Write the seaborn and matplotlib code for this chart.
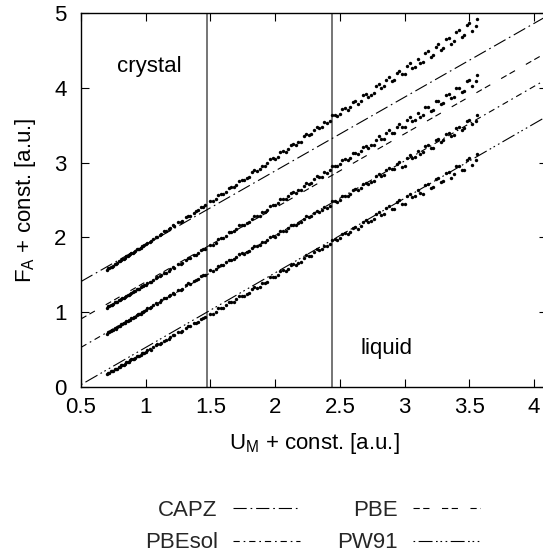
import matplotlib
matplotlib.use("Agg")
import matplotlib.pyplot as plt
from matplotlib.lines import Line2D
import seaborn as sns
import pandas as pd
import numpy as np

# ---------------- data (two sets of sampled configurations) ----------------
u_m_a = [0.70, 0.72, 0.73, 0.75, 0.77, 0.79, 0.80, 0.82, 0.84, 0.86, 0.88, 0.90, 0.92, 0.94, 0.96, 0.98,
         1.00, 1.03, 1.06, 1.09, 1.12, 1.16, 1.19, 1.22, 1.25, 1.28, 1.31, 1.34, 1.37, 1.40, 1.43, 1.46,
         1.50, 1.54, 1.58, 1.62, 1.66, 1.70, 1.74, 1.78, 1.82, 1.86, 1.90, 1.94, 1.98, 2.02, 2.06, 2.10,
         2.14, 2.18, 2.22, 2.26, 2.30, 2.34, 2.38, 2.42, 2.46, 2.50, 2.54, 2.58, 2.62, 2.66, 2.70, 2.74,
         2.78, 2.82, 2.86, 2.90, 2.94, 2.98, 3.02, 3.06, 3.10, 3.14, 3.18, 3.22, 3.26, 3.30, 3.34, 3.38,
         3.42, 3.46, 3.50, 3.55]

f_capz_a = [1.57, 1.59, 1.61, 1.62, 1.65, 1.68, 1.68, 1.71, 1.73, 1.75, 1.78, 1.79, 1.82, 1.85, 1.86, 1.89,
            1.91, 1.94, 1.98, 2.00, 2.05, 2.09, 2.13, 2.15, 2.20, 2.22, 2.27, 2.29, 2.33, 2.36, 2.40, 2.43,
            2.49, 2.51, 2.58, 2.61, 2.68, 2.70, 2.77, 2.80, 2.87, 2.89, 2.96, 2.99, 3.06, 3.08, 3.16, 3.18,
            3.25, 3.27, 3.35, 3.37, 3.44, 3.46, 3.54, 3.56, 3.64, 3.65, 3.73, 3.74, 3.83, 3.82, 3.92, 3.91,
            4.02, 4.00, 4.11, 4.09, 4.20, 4.18, 4.29, 4.27, 4.39, 4.35, 4.49, 4.44, 4.58, 4.53, 4.67, 4.62,
            4.77, 4.70, 4.86, 4.82]

f_pbe_a = [1.06, 1.08, 1.10, 1.11, 1.13, 1.16, 1.16, 1.19, 1.20, 1.23, 1.25, 1.27, 1.29, 1.31, 1.34, 1.35,
           1.37, 1.41, 1.43, 1.47, 1.50, 1.53, 1.58, 1.59, 1.64, 1.66, 1.70, 1.72, 1.76, 1.79, 1.83, 1.85,
           1.90, 1.93, 1.99, 2.02, 2.07, 2.11, 2.17, 2.19, 2.25, 2.28, 2.34, 2.37, 2.43, 2.46, 2.52, 2.55,
           2.61, 2.63, 2.69, 2.72, 2.78, 2.81, 2.87, 2.90, 2.96, 2.98, 3.05, 3.06, 3.13, 3.15, 3.22, 3.23,
           3.30, 3.32, 3.40, 3.39, 3.48, 3.47, 3.57, 3.55, 3.66, 3.63, 3.74, 3.70, 3.83, 3.80, 3.92, 3.88,
           4.00, 3.96, 4.10, 4.09]

f_pbesol_a = [0.71, 0.73, 0.75, 0.76, 0.78, 0.81, 0.81, 0.84, 0.85, 0.88, 0.90, 0.92, 0.94, 0.97, 0.98, 1.00,
              1.03, 1.05, 1.10, 1.11, 1.16, 1.19, 1.23, 1.25, 1.30, 1.31, 1.36, 1.38, 1.42, 1.44, 1.48, 1.50,
              1.56, 1.58, 1.63, 1.67, 1.70, 1.74, 1.79, 1.81, 1.86, 1.89, 1.94, 1.96, 2.02, 2.04, 2.09, 2.12,
              2.17, 2.19, 2.25, 2.27, 2.32, 2.34, 2.40, 2.42, 2.48, 2.50, 2.56, 2.58, 2.65, 2.66, 2.73, 2.74,
              2.82, 2.82, 2.90, 2.91, 2.98, 2.94, 3.06, 3.06, 3.15, 3.14, 3.23, 3.19, 3.31, 3.30, 3.40, 3.37,
              3.48, 3.46, 3.57, 3.56]

f_pw91_a = [0.17, 0.19, 0.21, 0.22, 0.24, 0.27, 0.27, 0.30, 0.31, 0.33, 0.36, 0.37, 0.39, 0.42, 0.43, 0.45,
            0.47, 0.51, 0.53, 0.57, 0.59, 0.63, 0.67, 0.69, 0.73, 0.75, 0.79, 0.81, 0.85, 0.87, 0.91, 0.93,
            0.98, 1.00, 1.06, 1.10, 1.13, 1.18, 1.22, 1.25, 1.31, 1.33, 1.39, 1.41, 1.47, 1.50, 1.56, 1.58,
            1.64, 1.66, 1.72, 1.75, 1.81, 1.83, 1.89, 1.91, 1.98, 1.99, 2.06, 2.07, 2.14, 2.15, 2.23, 2.22,
            2.31, 2.30, 2.39, 2.38, 2.47, 2.45, 2.55, 2.54, 2.64, 2.58, 2.72, 2.67, 2.80, 2.75, 2.87, 2.85,
            2.96, 2.90, 3.06, 3.03]

u_m_b = [0.71, 0.74, 0.76, 0.78, 0.81, 0.83, 0.85, 0.87, 0.89, 0.91, 0.93, 0.95, 0.97, 0.99, 1.01, 1.04,
         1.08, 1.11, 1.14, 1.18, 1.21, 1.27, 1.33, 1.39, 1.44,
         1.52, 1.56, 1.60, 1.64, 1.68, 1.72, 1.76, 1.80, 1.84, 1.88, 1.92, 1.96, 2.00, 2.04, 2.08, 2.12,
         2.16, 2.20, 2.24, 2.28, 2.32, 2.36, 2.40, 2.44, 2.48, 2.52, 2.56, 2.60, 2.64, 2.68, 2.72, 2.76,
         2.80, 2.84, 2.88, 2.92, 2.96, 3.00, 3.04, 3.08, 3.12, 3.16, 3.20, 3.24, 3.28, 3.32, 3.36, 3.40,
         3.44, 3.48, 3.52, 3.56]

f_capz_b = [1.59, 1.61, 1.65, 1.66, 1.70, 1.71, 1.75, 1.76, 1.79, 1.80, 1.84, 1.85, 1.88, 1.90, 1.93, 1.95,
            2.01, 2.03, 2.08, 2.11, 2.16, 2.21, 2.29, 2.35, 2.41,
            2.48, 2.57, 2.58, 2.66, 2.67, 2.76, 2.77, 2.81, 2.90, 2.91, 2.95, 3.05, 3.05, 3.14, 3.14, 3.24,
            3.24, 3.28, 3.38, 3.38, 3.48, 3.47, 3.53, 3.63, 3.62, 3.72, 3.70, 3.81, 3.79, 3.91, 3.88, 3.93,
            4.05, 4.02, 4.14, 4.10, 4.23, 4.19, 4.33, 4.28, 4.33, 4.46, 4.41, 4.55, 4.50, 4.65, 4.59, 4.74,
            4.68, 4.84, 4.76, 4.92]

f_pbe_b = [1.08, 1.10, 1.13, 1.14, 1.18, 1.19, 1.22, 1.23, 1.26, 1.28, 1.31, 1.31, 1.35, 1.36, 1.39, 1.41,
           1.46, 1.49, 1.52, 1.55, 1.60, 1.65, 1.72, 1.77, 1.84,
           1.90, 1.98, 1.99, 2.07, 2.08, 2.16, 2.16, 2.21, 2.29, 2.29, 2.34, 2.42, 2.43, 2.51, 2.51, 2.60,
           2.60, 2.64, 2.73, 2.73, 2.82, 2.81, 2.86, 2.96, 2.95, 3.04, 3.03, 3.13, 3.11, 3.21, 3.19, 3.24,
           3.35, 3.32, 3.43, 3.40, 3.52, 3.48, 3.61, 3.57, 3.61, 3.74, 3.69, 3.82, 3.78, 3.91, 3.86, 4.00,
           3.94, 4.09, 4.02, 4.17]

f_pbesol_b = [0.73, 0.76, 0.79, 0.80, 0.84, 0.85, 0.88, 0.89, 0.92, 0.93, 0.96, 0.97, 1.00, 1.01, 1.05, 1.07,
              1.12, 1.14, 1.19, 1.21, 1.26, 1.30, 1.39, 1.43, 1.50,
              1.55, 1.62, 1.63, 1.70, 1.71, 1.78, 1.78, 1.82, 1.89, 1.90, 1.94, 2.01, 2.01, 2.09, 2.09, 2.16,
              2.16, 2.20, 2.28, 2.28, 2.35, 2.36, 2.39, 2.48, 2.47, 2.56, 2.55, 2.64, 2.63, 2.72, 2.71, 2.75,
              2.85, 2.83, 2.93, 2.91, 3.01, 2.95, 3.10, 3.07, 3.11, 3.22, 3.19, 3.30, 3.27, 3.38, 3.35, 3.46,
              3.43, 3.55, 3.51, 3.64]

f_pw91_b = [0.19, 0.22, 0.24, 0.24, 0.29, 0.29, 0.33, 0.33, 0.37, 0.37, 0.41, 0.41, 0.45, 0.45, 0.49, 0.50,
            0.56, 0.57, 0.62, 0.64, 0.69, 0.73, 0.81, 0.85, 0.92,
            0.98, 1.05, 1.06, 1.13, 1.14, 1.22, 1.22, 1.26, 1.34, 1.34, 1.39, 1.47, 1.47, 1.55, 1.55, 1.63,
            1.63, 1.67, 1.76, 1.75, 1.84, 1.84, 1.88, 1.97, 1.96, 2.05, 2.04, 2.13, 2.11, 2.21, 2.20, 2.24,
            2.34, 2.31, 2.42, 2.38, 2.50, 2.44, 2.58, 2.55, 2.59, 2.70, 2.66, 2.78, 2.74, 2.86, 2.80, 2.95,
            2.90, 3.04, 2.97, 3.11]

functionals = ["CAPZ", "PBE", "PBEsol", "PW91"]
fit_slope = [0.986, 0.990, 0.997, 0.997]
fit_intercept = [0.917, 0.415, 0.031, -0.468]
phase_boundaries = [1.475, 2.44]
x_ticks = [0.5, 1, 1.5, 2, 2.5, 3, 3.5, 4]
x_tick_labels = ["0.5", "1", "1.5", "2", "2.5", "3", "3.5", "4"]
y_ticks = [0, 1, 2, 3, 4, 5]

# ---------------- styling ----------------
sns.set_theme(style="ticks")
plt.rcParams["font.family"] = ["Liberation Sans", "DejaVu Sans"]
plt.rcParams["mathtext.default"] = "regular"
plt.rcParams["lines.scale_dashes"] = False
FS = 16

dash_styles = {
    "CAPZ": (0, (9.5, 2.8, 1.2, 2.8)),
    "PBE": (0, (4.5, 2.5, 4.5, 9.0)),
    "PBEsol": (0, (4.5, 2.8, 1.2, 2.8)),
    "PW91": (0, (1.2, 2.5, 10.0, 2.5, 1.2, 2.0, 1.2, 2.5)),
}

fig = plt.figure(figsize=(5.43, 5.58), dpi=100)
W, H = 543, 558
ax = fig.add_axes([81 / W, 1 - 387 / H, (547 - 81) / W, (387 - 13) / H])

frames = []
for name, ya, yb in zip(functionals,
                        [f_capz_a, f_pbe_a, f_pbesol_a, f_pw91_a],
                        [f_capz_b, f_pbe_b, f_pbesol_b, f_pw91_b]):
    frames.append(pd.DataFrame({"U": u_m_a, "F": ya, "functional": name}))
    frames.append(pd.DataFrame({"U": u_m_b, "F": yb, "functional": name}))
df = pd.concat(frames, ignore_index=True)

sns.scatterplot(data=df, x="U", y="F", color="black", s=6, linewidth=0,
                ax=ax, legend=False, zorder=3)

xlim = (0.5, 4.1)
handles = []
for name, m, b in zip(functionals, fit_slope, fit_intercept):
    xs = np.array(xlim)
    ax.plot(xs, m * xs + b, color="black", lw=0.8, linestyle=dash_styles[name], zorder=2)
    handles.append(Line2D([], [], color="black", lw=0.8, linestyle=dash_styles[name], label=name))

for xb in phase_boundaries:
    ax.axvline(xb, color="#6a6a6a", lw=1.3, zorder=1)

ax.set_xlim(*xlim)
ax.set_ylim(0, 5)
ax.set_xticks(x_ticks)
ax.set_xticklabels(x_tick_labels)
ax.set_yticks(y_ticks)
ax.set_yticklabels([str(t) for t in y_ticks])
ax.tick_params(axis="both", direction="in", length=5.8, width=0.8, color="black",
               top=True, right=True, labelsize=FS, labelcolor="black")
ax.tick_params(axis="x", pad=7.5)
ax.tick_params(axis="y", pad=10.5)
for sp in ax.spines.values():
    sp.set_color("black")
    sp.set_linewidth(1.0)
    sp.set_visible(True)
ax.set_facecolor("white")
ax.grid(False)

ax.set_xlabel("U$_{M}$ + const. [a.u.]", fontsize=FS, color="black")
ax.set_ylabel("F$_{A}$ + const. [a.u.]", fontsize=FS, color="black")
ax.xaxis.set_label_coords(0.5, -0.1176)
ax.yaxis.set_label_coords(-0.092, 0.5)

ax.text(1.03, 4.28, "crystal", fontsize=FS, ha="center", va="center", color="black")
ax.text(2.86, 0.51, "liquid", fontsize=FS, ha="center", va="center", color="black")

# legend below the axes: text right-aligned before its line sample (gnuplot style)
leg_pos = {"CAPZ": (300, 510), "PBE": (480, 510), "PBEsol": (300, 543), "PW91": (480, 543)}
for h in handles:
    px, py = leg_pos[h.get_label()]
    fig.legend(handles=[h], loc="center right", bbox_to_anchor=(px / W, 1 - py / H),
               bbox_transform=fig.transFigure, frameon=False, borderpad=0,
               borderaxespad=0, handlelength=3.0, handletextpad=0.7,
               markerfirst=False, fontsize=FS)

fig.savefig("out.png", dpi=100, facecolor="white")
